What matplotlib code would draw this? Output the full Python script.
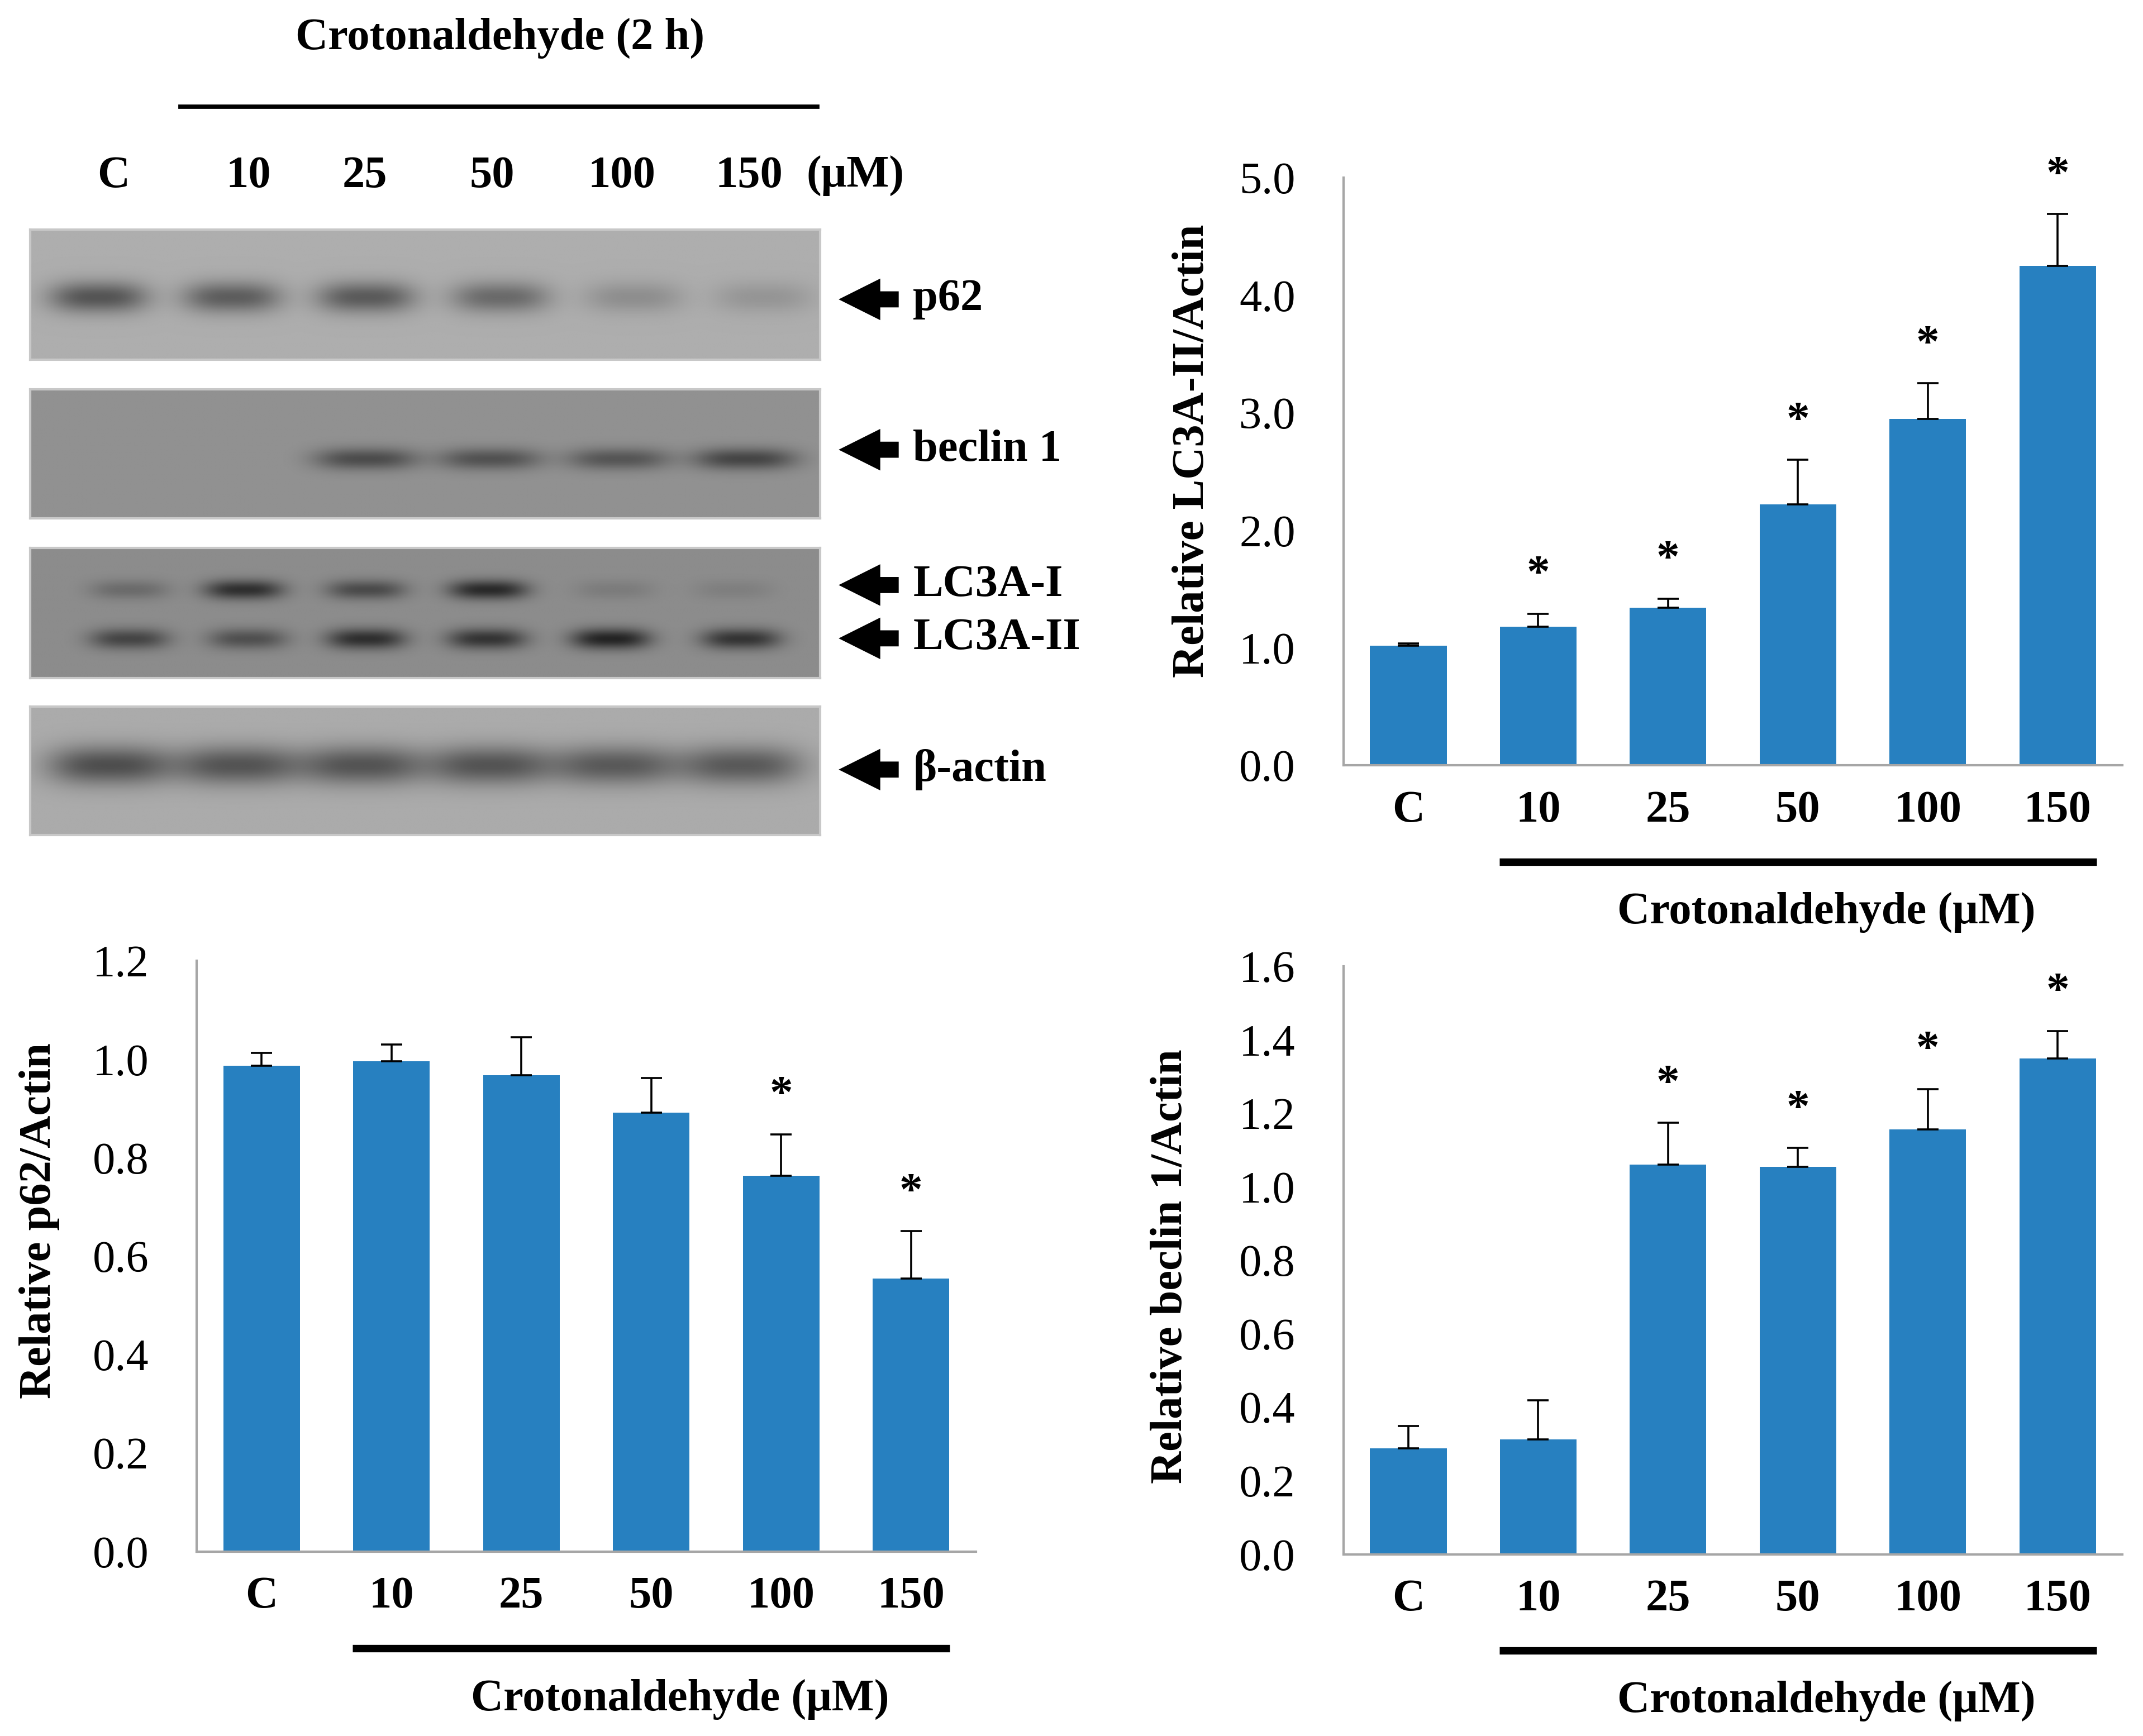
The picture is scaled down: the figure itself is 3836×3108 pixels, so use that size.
import numpy as np
import matplotlib
matplotlib.use('Agg')
import matplotlib.pyplot as plt
from matplotlib.patches import FancyArrow

plt.rcParams['font.family'] = ['Liberation Serif', 'DejaVu Serif']

# ---- data ----
doses = ['C', '10', '25', '50', '100', '150']

lc3_mean = [1.02, 1.18, 1.34, 2.22, 2.95, 4.25]
lc3_err = [0.02, 0.11, 0.08, 0.38, 0.30, 0.44]
lc3_sig = [False, True, True, True, True, True]

p62_mean = [0.987, 0.996, 0.968, 0.892, 0.764, 0.555]
p62_err = [0.026, 0.034, 0.077, 0.070, 0.084, 0.096]
p62_sig = [False, False, False, False, True, True]

beclin_mean = [0.288, 0.313, 1.061, 1.054, 1.157, 1.350]
beclin_err = [0.061, 0.106, 0.113, 0.052, 0.109, 0.074]
beclin_sig = [False, False, True, True, True, True]

# western blot band strength per lane (0 = none, 1 = darkest)
blot_names = ['p62', 'beclin 1', 'LC3A-I', 'LC3A-II', 'β-actin']
band_p62 = [0.62, 0.56, 0.58, 0.47, 0.22, 0.17]
band_beclin = [0.0, 0.0, 0.60, 0.55, 0.52, 0.66]
band_lc3_1 = [0.30, 0.85, 0.60, 0.90, 0.15, 0.12]
band_lc3_2 = [0.65, 0.55, 0.85, 0.80, 0.95, 0.80]
band_actin = [0.66, 0.62, 0.62, 0.62, 0.58, 0.58]

BLUE = '#2780C0'
W, H = 3836, 3108
fig = plt.figure(figsize=(W / 200, H / 200), dpi=200)


def fx(d):
    return d / 1568


def fy(d):
    return 1 - d / 1270


BOLD = 29
TICK = 29


def bar_panel(left, top, bottom, mean, err, sig, ymax, step, ylabel, lab_x, lab_y, star_off):
    right = left + 570
    ax = fig.add_axes([fx(left), fy(bottom), fx(right) - fx(left), fy(top) - fy(bottom)])
    x = np.arange(len(doses))
    ax.bar(x, mean, width=0.59, color=BLUE, zorder=2)
    ax.errorbar(x, mean, yerr=[np.zeros(len(err)), err], fmt='none', ecolor='black',
                elinewidth=1.3, capsize=7, capthick=1.3, zorder=3)
    for i in range(len(doses)):
        if sig[i]:
            ax.annotate('*', (x[i], mean[i] + err[i]), xytext=(0, star_off),
                        textcoords='offset points', ha='center', va='bottom',
                        fontsize=BOLD + 1, fontweight='bold')
    ax.set_xlim(-0.5, 5.5)
    ax.set_ylim(0, ymax)
    ticks = np.arange(0, ymax + step / 2, step)
    ax.set_yticks(ticks)
    ax.set_yticklabels(['%.1f' % t for t in ticks], fontsize=TICK)
    ax.set_xticks(x)
    ax.set_xticklabels(doses, fontsize=BOLD, fontweight='bold')
    ax.tick_params(axis='both', length=0)
    ax.tick_params(axis='y', pad=31)
    ax.tick_params(axis='x', pad=16)
    for s in ['top', 'right']:
        ax.spines[s].set_visible(False)
    for s in ['left', 'bottom']:
        ax.spines[s].set_color('#A6A6A6')
        ax.spines[s].set_linewidth(1.5)
    ax.set_ylabel(ylabel, fontsize=BOLD, fontweight='bold')
    ax.yaxis.set_label_coords(lab_x, lab_y)
    trans = ax.get_xaxis_transform()
    ax.plot([0.7, 5.3], [-0.164, -0.164], color='black', lw=4.8, transform=trans,
            clip_on=False, solid_capstyle='butt')
    ax.text(3.22, -0.25, 'Crotonaldehyde (μM)', transform=trans, ha='center', va='center',
            fontsize=BOLD, fontweight='bold')
    return ax


bar_panel(983, 130, 560, lc3_mean, lc3_err, lc3_sig, 5.0, 1.0,
          'Relative LC3A-II/Actin', -0.168, 0.535, 11)
bar_panel(144, 703, 1135, p62_mean, p62_err, p62_sig, 1.2, 0.2,
          'Relative p62/Actin', -0.176, 0.56, 11)
bar_panel(983, 707, 1137, beclin_mean, beclin_err, beclin_sig, 1.6, 0.2,
          'Relative beclin 1/Actin', -0.196, 0.49, 11)

# ---- western blot ----
fig.text(fx(366), fy(28), 'Crotonaldehyde (2 h)', ha='center', va='center',
         fontsize=BOLD, fontweight='bold')
fig.add_artist(plt.Line2D([fx(132), fx(598)], [fy(78), fy(78)], color='black', lw=2.8))
lane_x = [83, 182, 267, 360, 455, 548]
for lx, d in zip(lane_x, doses):
    fig.text(fx(lx), fy(129), d, ha='center', va='center', fontsize=BOLD, fontweight='bold')
fig.text(fx(626), fy(129), '(μM)', ha='center', va='center', fontsize=BOLD, fontweight='bold')

gx = np.linspace(0, 1, 600)
gy = np.linspace(0, 1, 160)
XX, YY = np.meshgrid(gx, gy)


def blot(top, bottom, bg, rows):
    ax = fig.add_axes([fx(22), fy(bottom), fx(600) - fx(22), fy(top) - fy(bottom)])
    img = np.full(XX.shape, bg)
    for centers, strength, yc, hw, hh in rows:
        for xc, s in zip(centers, strength):
            band = np.exp(-(np.abs(XX - xc) / hw) ** 3) * np.exp(-((YY - yc) / hh) ** 2)
            img = img - s * band * (bg - 0.12)
    ax.imshow(img, cmap='gray', vmin=0, vmax=1, extent=(0, 1, 1, 0), aspect='auto',
              interpolation='bilinear')
    ax.set_xticks([])
    ax.set_yticks([])
    for s in ax.spines.values():
        s.set_color('#C8C8C8')
        s.set_linewidth(1.5)
    return ax


blot(168, 263, 0.68, [([0.086, 0.255, 0.425, 0.595, 0.764, 0.928], band_p62, 0.52, 0.062, 0.12)])
blot(285, 379, 0.57, [([0.095, 0.26, 0.425, 0.582, 0.745, 0.905], band_beclin, 0.54, 0.065, 0.085)])
blot(401, 496, 0.55, [([0.125, 0.27, 0.425, 0.58, 0.74, 0.89], band_lc3_1, 0.32, 0.05, 0.075),
                      ([0.125, 0.275, 0.425, 0.578, 0.735, 0.9], band_lc3_2, 0.70, 0.05, 0.08)])
blot(517, 611, 0.67, [([0.1, 0.262, 0.42, 0.582, 0.74, 0.9], band_actin, 0.46, 0.078, 0.15)])

arrow_y = [219, 329, 428, 467, 563]
for name, ay in zip(blot_names, arrow_y):
    fig.add_artist(FancyArrow(fx(657), fy(ay), -103 / W, 0, width=26 / H, head_width=70 / H,
                              head_length=70 / W, length_includes_head=True,
                              color='black', transform=fig.transFigure))
    fig.text(fx(668), fy(ay), name, ha='left', va='center', fontsize=BOLD, fontweight='bold')

fig.savefig('out.png', dpi=200, facecolor='white')
